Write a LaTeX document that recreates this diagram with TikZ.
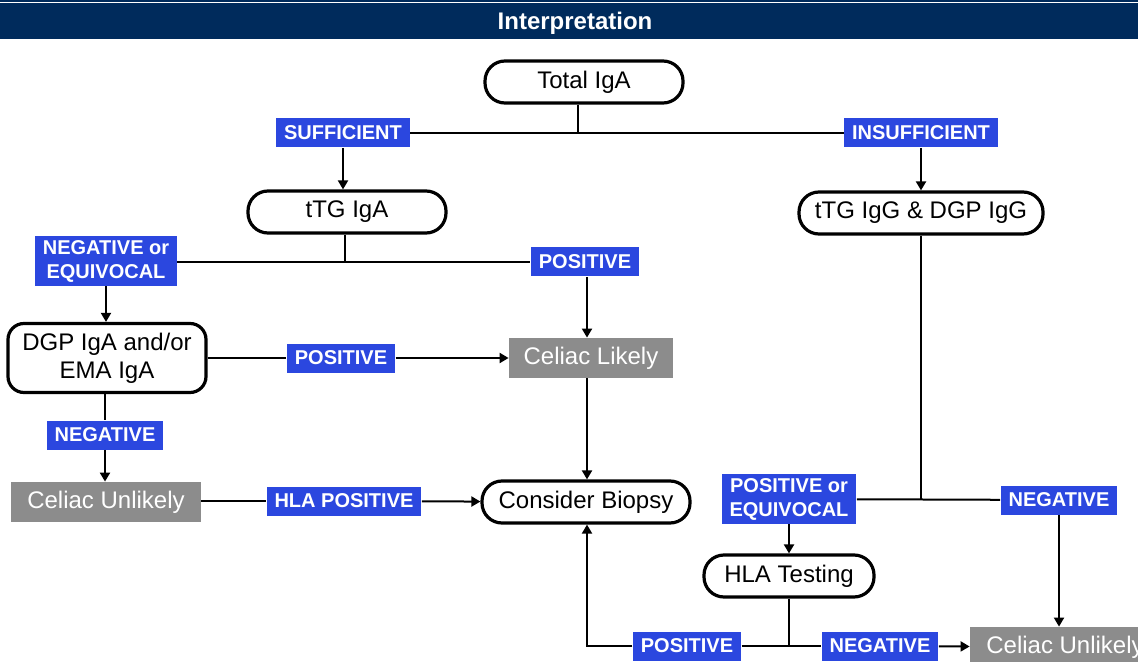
\documentclass[tikz,border=0pt]{standalone}
\usepackage{fontspec}
\setmainfont{Liberation Sans}
\usetikzlibrary{arrows.meta}
\definecolor{navy}{HTML}{002B5C}
\definecolor{lblue}{HTML}{2B47DF}
\definecolor{boxgray}{HTML}{8C8C8C}

\begin{document}
\begin{tikzpicture}[x=0.5pt, y=-0.5pt,
  test/.style={draw=black, line width=1.6pt, rounded corners=10pt, fill=white,
    minimum height=21pt, inner sep=0pt, font=\fontsize{12}{14}\selectfont},
  result/.style={fill=boxgray, text=white, minimum height=20pt, inner sep=0pt,
    font=\fontsize{12}{14}\selectfont},
  lbl/.style={fill=lblue, text=white, inner xsep=4pt, inner ysep=2pt, minimum height=14.5pt,
    align=center, font=\fontsize{10}{12}\selectfont\bfseries},
  conn/.style={line width=1pt},
  arr/.style={line width=1pt, -{Triangle[width=5pt,length=4.5pt]}}]

\useasboundingbox (0,0) rectangle (1138,662);

% header bar
\fill[navy] (0,0) rectangle (1138,1.6);
\fill[navy] (0,3.5) rectangle (1138,39);
\node (title) at (575,23) [text=white, font=\fontsize{12}{14}\selectfont\bfseries] {Interpretation};

% tests
\node (tot) at (584,82) [test, minimum width=99pt] {Total IgA};
\node (ttga) at (347,212) [test, minimum width=99pt] {tTG IgA};
\node (ttgg) at (921,213) [test, minimum width=122pt] {tTG IgG \& DGP IgG};
\node (dgp) at (107,358) [test, minimum width=99pt, minimum height=34.5pt, rounded corners=8pt, align=center] {DGP IgA and/or\\EMA IgA};
\node (biopsy) at (586,502) [test, minimum width=104pt] {Consider Biopsy};
\node (hla) at (789,576) [test, minimum width=85pt] {HLA Testing};

% results
\node (likely) at (591,358) [result, minimum width=82pt] {Celiac Likely};
\node (unl1) at (106,502) [result, minimum width=95pt] {Celiac Unlikely};
\node (unl2) at (1065,647) [result, minimum width=95pt] {Celiac Unlikely};

% labels
\node (suff) at (343,133) [lbl] {SUFFICIENT};
\node (insuff) at (921,133) [lbl] {INSUFFICIENT};
\node (negeq) at (106,261) [lbl] {NEGATIVE or\\EQUIVOCAL};
\node (pos1) at (585,262) [lbl] {POSITIVE};
\node (pos2) at (341,358) [lbl] {POSITIVE};
\node (neg1) at (105,435) [lbl] {NEGATIVE};
\node (hlapos) at (344,501) [lbl] {HLA POSITIVE};
\node (poseq) at (789,499) [lbl] {POSITIVE or\\EQUIVOCAL};
\node (neg2) at (1059,500) [lbl] {NEGATIVE};
\node (pos3) at (687,646) [lbl] {POSITIVE};
\node (neg3) at (880,646) [lbl] {NEGATIVE};

\coordinate (j1) at (578,133);
\coordinate (j2) at (345,262);
\coordinate (j3) at (587,646);

% connectors
\draw[conn] (tot.south -| j1) -- (j1);
\draw[conn] (suff) -- (insuff);
\draw[arr] (suff.south) -- (suff.south |- ttga.north);
\draw[arr] (insuff) -- (ttgg);

\draw[conn] (ttga.south -| j2) -- (j2);
\draw[conn] (negeq.east) -- (negeq.east |- pos1) -- (pos1.west);
\draw[arr] (negeq.south) -- (negeq.south |- dgp.north);
\draw[arr] (pos1.south -| j3) -- (likely.north -| j3);

\draw[conn] (dgp.east |- pos2) -- (pos2);
\draw[arr] (pos2.east) -- (likely.west);
\draw[conn] (neg1.north |- dgp.south) -- (neg1.north);
\draw[arr] (neg1.south) -- (neg1.south |- unl1.north);
\draw[conn] (unl1.east |- hlapos) -- (hlapos);
\draw[arr] (hlapos) -- (biopsy);
\draw[arr] (likely.south -| j3) -- (biopsy.north -| j3);

\draw[conn] (ttgg) -- (ttgg |- poseq);
\draw[conn] (poseq) -- (neg2);
\draw[arr] (neg2) -- (neg2 |- unl2.north);
\draw[arr] (poseq) -- (hla);

\draw[conn] (hla) -- (hla |- pos3);
\draw[conn] (pos3) -- (neg3);
\draw[arr] (neg3) -- (unl2);
\draw[arr] (pos3.west) -- (j3) -- (biopsy.south -| j3);

\end{tikzpicture}
\end{document}
